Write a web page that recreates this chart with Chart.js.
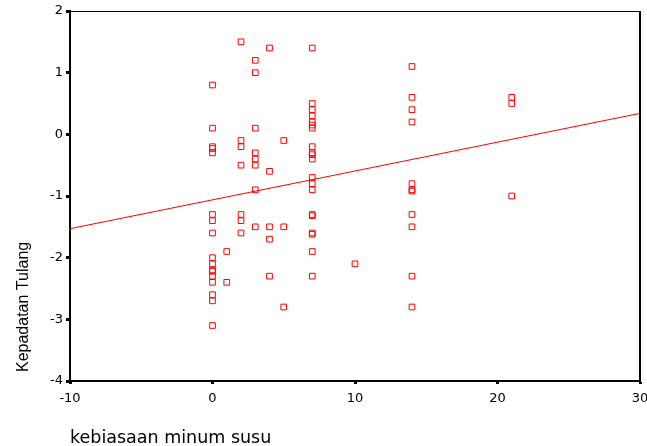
<!DOCTYPE html>
<html>
<head>
<meta charset="utf-8">
<script src="https://cdn.jsdelivr.net/npm/chart.js@4/dist/chart.umd.min.js"></script>
<style>
  html, body { margin: 0; padding: 0; background: #fff; overflow: hidden; width: 647px; height: 446px; }
  #wrap { width: 660px; height: 446px; }
</style>
</head>
<body>
<div id="wrap"><canvas id="c" width="660" height="446"></canvas></div>
<script>
// ---- data ----
const milkHabit = [
  0,0,0,0,0,0,0,0,0,0,0,0,0,0,0,0,0,
  1,1,
  2,2,2,2,2,2,2,
  3,3,3,3,3,3,3,3,
  4,4,4,4,4,
  5,5,5,
  7,7,7,7,7,7,7,7,7,7,7,7,7,7,7,7,7,7,7,7,
  10,
  14,14,14,14,14,14,14,14,14,14,14,
  21,21,21
];
const boneDensity = [
  0.8,0.1,-0.2,-0.23,-0.3,-1.3,-1.4,-1.6,-2.0,-2.1,-2.2,-2.22,-2.3,-2.4,-2.6,-2.7,-3.1,
  -1.9,-2.4,
  1.5,-0.1,-0.2,-0.5,-1.3,-1.4,-1.6,
  1.2,1.0,0.1,-0.3,-0.4,-0.5,-0.9,-1.5,
  1.4,-0.6,-1.5,-1.7,-2.3,
  -0.1,-1.5,-2.8,
  1.4,0.5,0.4,0.3,0.2,0.15,0.1,-0.2,-0.3,-0.33,-0.4,-0.7,-0.8,-0.9,-1.3,-1.32,-1.6,-1.62,-1.9,-2.3,
  -2.1,
  1.1,0.6,0.4,0.2,-0.8,-0.9,-0.92,-1.3,-1.5,-2.3,-2.8,
  0.6,0.5,-1.0
];
const fitLineX = [-10, 30];
const fitLineY = [-1.53, 0.34];
const xTicks = [-10, 0, 10, 20, 30];
const yTicks = [-4, -3, -2, -1, 0, 1, 2];
const xTitle = 'kebiasaan minum susu';
const yTitle = 'Kepadatan Tulang';

const scatterData = milkHabit.map((x, i) => ({ x: x, y: boneDensity[i] }));
const lineData = fitLineX.map((x, i) => ({ x: x, y: fitLineY[i] }));

const framePlugin = {
  id: 'frame',
  afterDraw(chart) {
    const { ctx, chartArea: a } = chart;
    ctx.save();
    ctx.strokeStyle = '#000';
    ctx.lineWidth = 1;
    ctx.beginPath();
    ctx.moveTo(a.left, a.top + 0.5);
    ctx.lineTo(a.right, a.top + 0.5);
    ctx.stroke();
    ctx.lineWidth = 2;
    ctx.beginPath();
    ctx.moveTo(a.right, a.top);
    ctx.lineTo(a.right, a.bottom);
    ctx.stroke();
    // rotated y title, anchored near the bottom of the axis
    ctx.fillStyle = '#000';
    ctx.font = '16px "Liberation Sans", Arial, sans-serif';
    ctx.translate(23.5, a.bottom - 9);
    ctx.rotate(-Math.PI / 2);
    ctx.textAlign = 'left';
    ctx.textBaseline = 'middle';
    ctx.fillText(yTitle, 0, 0);
    ctx.restore();
  }
};

new Chart(document.getElementById('c'), {
  data: {
    datasets: [
      {
        type: 'scatter',
        data: scatterData,
        pointStyle: 'rect',
        pointRadius: 4,
        pointHoverRadius: 4,
        pointBorderWidth: 1,
        borderColor: '#ff0000',
        backgroundColor: 'rgba(255,255,255,0)',
        order: 2
      },
      {
        type: 'line',
        data: lineData,
        borderColor: '#ff0000',
        borderWidth: 1,
        pointRadius: 0,
        fill: false,
        order: 1
      }
    ]
  },
  options: {
    responsive: false,
    animation: false,
    devicePixelRatio: 1,
    layout: { padding: { top: 11, right: 20, left: 0, bottom: 0 } },
    plugins: { legend: { display: false }, tooltip: { enabled: false } },
    scales: {
      x: {
        type: 'linear',
        min: -10, max: 30,
        afterFit(s) { s.height = 65; },
        afterBuildTicks(s) { s.ticks = xTicks.map(v => ({ value: v })); },
        border: { display: true, color: '#000', width: 2 },
        grid: { drawOnChartArea: false, drawTicks: true, tickLength: 3, tickWidth: 3, tickColor: '#000' },
        ticks: { color: '#000', padding: 7, font: { family: '"DejaVu Sans", sans-serif', size: 13 }, maxRotation: 0, autoSkip: false },
        title: {
          display: true, text: xTitle, align: 'start', color: '#000',
          font: { family: '"DejaVu Sans", sans-serif', size: 17.5 },
          padding: { top: 0, bottom: -3 }
        }
      },
      y: {
        type: 'linear',
        min: -4, max: 2,
        afterFit(s) { s.width = 70; },
        afterBuildTicks(s) { s.ticks = yTicks.map(v => ({ value: v })); },
        border: { display: true, color: '#000', width: 2 },
        grid: { drawOnChartArea: false, drawTicks: true, tickLength: 4, tickWidth: 3, tickColor: '#000' },
        ticks: { color: '#000', padding: 3, font: { family: '"DejaVu Sans", sans-serif', size: 13 }, autoSkip: false }
      }
    }
  },
  plugins: [framePlugin]
});
</script>
</body>
</html>
